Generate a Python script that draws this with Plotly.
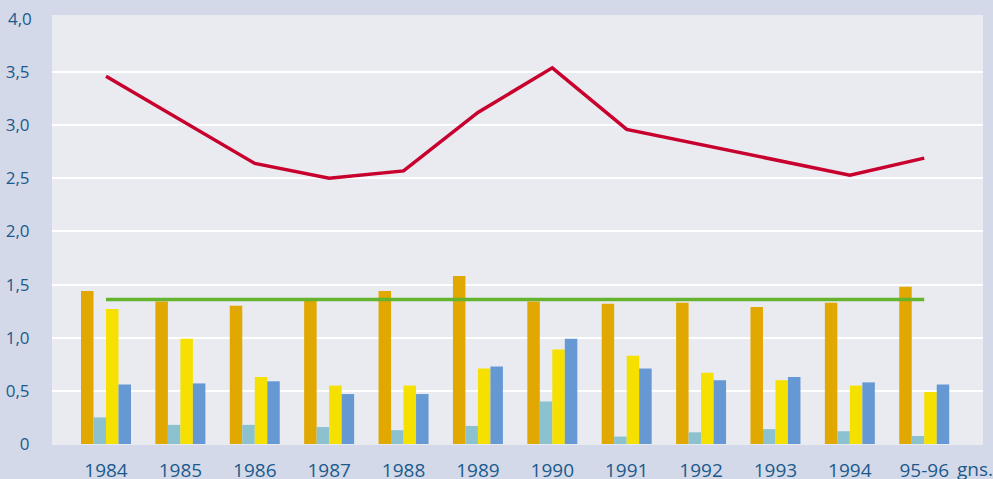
import plotly.graph_objects as go

categories = ["1984", "1985", "1986", "1987", "1988", "1989", "1990", "1991",
              "1992", "1993", "1994", "95-96"]

orange_vals = [1.44, 1.34, 1.30, 1.36, 1.44, 1.58, 1.34, 1.32, 1.33, 1.29, 1.33, 1.48]
teal_vals = [0.25, 0.18, 0.18, 0.16, 0.13, 0.17, 0.40, 0.07, 0.11, 0.14, 0.12, 0.075]
yellow_vals = [1.27, 0.99, 0.63, 0.55, 0.55, 0.71, 0.89, 0.83, 0.67, 0.60, 0.55, 0.49]
blue_vals = [0.56, 0.57, 0.59, 0.47, 0.47, 0.73, 0.99, 0.71, 0.60, 0.63, 0.58, 0.56]

red_vals = [3.46, None, 2.64, 2.50, 2.57, 3.12, 3.54, 2.96, None, None, 2.53, 2.69]
green_vals = [1.36] * 12

y_tickvals = [0, 0.5, 1.0, 1.5, 2.0, 2.5, 3.0, 3.5]
y_ticktext = ["0", "0,5", "1,0", "1,5", "2,0", "2,5", "3,0", "3,5"]
top_label = "4,0"
unit_label = "gns."

TXT = "#1b5a8c"
FONT = "Open Sans"

fig = go.Figure()
for vals, col in [(orange_vals, "#e0a800"), (teal_vals, "#8cc1cf"),
                  (yellow_vals, "#f5e000"), (blue_vals, "#6699d3")]:
    fig.add_trace(go.Bar(x=categories, y=vals, marker=dict(color=col, line=dict(width=0)),
                         showlegend=False, hoverinfo="y"))

fig.add_trace(go.Scatter(x=categories, y=green_vals, mode="lines",
                         line=dict(color="#66b32e", width=3.5), showlegend=False))
fig.add_trace(go.Scatter(x=categories, y=red_vals, mode="lines", connectgaps=True,
                         line=dict(color="#c8002d", width=3.5), showlegend=False))

fig.update_layout(
    width=993, height=479,
    margin=dict(l=52, r=10, t=15, b=35, autoexpand=False),
    paper_bgcolor="#d3d9e8",
    plot_bgcolor="#e9ebf1",
    barmode="group",
    bargap=0.328,
    bargroupgap=0,
    font=dict(family=FONT, size=17, color=TXT),
    xaxis=dict(type="category", range=[-0.726, 11.79], showgrid=False, zeroline=False,
               showline=False, ticks="outside", ticklen=9, tickcolor="rgba(0,0,0,0)",
               automargin=False,
               tickfont=dict(family=FONT, size=19, color=TXT)),
    yaxis=dict(range=[0, 4.037], tickvals=y_tickvals, ticktext=y_ticktext,
               showgrid=True, gridcolor="#ffffff", gridwidth=2,
               zeroline=True, zerolinecolor="#e9ebf1", zerolinewidth=2,
               showline=False, ticks="outside", ticklen=18, tickcolor="rgba(0,0,0,0)",
               automargin=False,
               tickfont=dict(family=FONT, size=17, color=TXT)),
    annotations=[
        dict(text=top_label, x=0, xref="paper", xanchor="right", xshift=-18,
             y=4.0, yref="y", yanchor="middle", showarrow=False,
             font=dict(family=FONT, size=17, color=TXT)),
        dict(text=unit_label, x=1.0, xref="paper", xanchor="left", xshift=-28,
             y=-0.058, yref="paper", yanchor="middle", showarrow=False,
             font=dict(family=FONT, size=19, color=TXT)),
    ],
)

fig.write_html("out.html", config={"displayModeBar": False},
               post_script="document.body.style.margin='0';")
